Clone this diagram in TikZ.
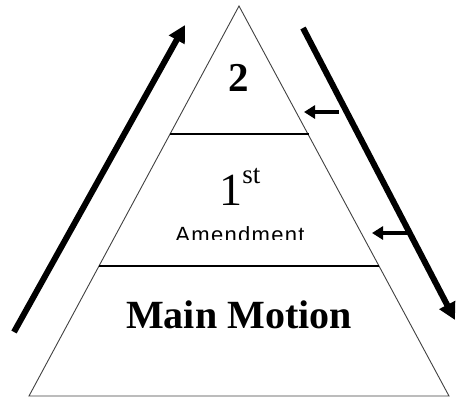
\documentclass[tikz,border=0pt]{standalone}
\usepackage{fontspec}
\setmainfont{Liberation Serif}
\newfontfamily\amendfont[LetterSpace=6]{Liberation Sans}
\usetikzlibrary{arrows.meta}
\begin{document}
\begin{tikzpicture}[x=1pt,y=-1pt,
  side/.style={draw=black!75,line width=0.9pt},
  divider/.style={draw=black,line width=1.6pt},
  bigarrow/.style={line width=6pt,-{Triangle[length=17pt,width=17pt]}},
  smallarrow/.style={line width=3.6pt,-{Triangle[length=11pt,width=13pt]}},
  lbl/.style={inner sep=0pt,anchor=base}]
\useasboundingbox (0,0) rectangle (456,397);
\coordinate (apex) at (239,6);
\coordinate (bl) at (29,396);
\coordinate (br) at (449,396);
\coordinate (l1) at (169.5,134);
\coordinate (r1) at (308.5,134);
\coordinate (l2) at (99,266);
\coordinate (r2) at (379,266);
\draw[side] (apex) -- (bl) -- (br) -- cycle;
\draw[divider] (l1) -- (r1);
\draw[divider] (l2) -- (r2);
% labels
\node[lbl] (two) at (239,91) {\fontsize{41}{41}\selectfont\bfseries 2};
\node[lbl] (first) at (240,205) {\fontsize{46}{46}\selectfont 1\raisebox{22pt}{\fontsize{27}{27}\selectfont st}};
\begin{scope}
\clip (150,215) rectangle (330,239.5);
\node[lbl] (amend) at (240,242) {\fontsize{22}{22}\selectfont\amendfont Amendment};
\end{scope}
\node[lbl] (main) at (239,328) {\fontsize{40}{40}\selectfont\bfseries Main Motion};
% arrows
\coordinate (upT) at (14,332);
\coordinate (upH) at (185,25);
\draw[bigarrow] (upT) -- (upH);
\coordinate (dnT) at (303,28);
\coordinate (dnH) at (455,320);
\draw[bigarrow] (dnT) -- (dnH);
\coordinate (s1T) at (339,112);
\coordinate (s1H) at (304,112);
\draw[smallarrow] (s1T) -- (s1H);
\coordinate (s2T) at (407,233);
\coordinate (s2H) at (372,233);
\draw[smallarrow] (s2T) -- (s2H);
\end{tikzpicture}
\end{document}
